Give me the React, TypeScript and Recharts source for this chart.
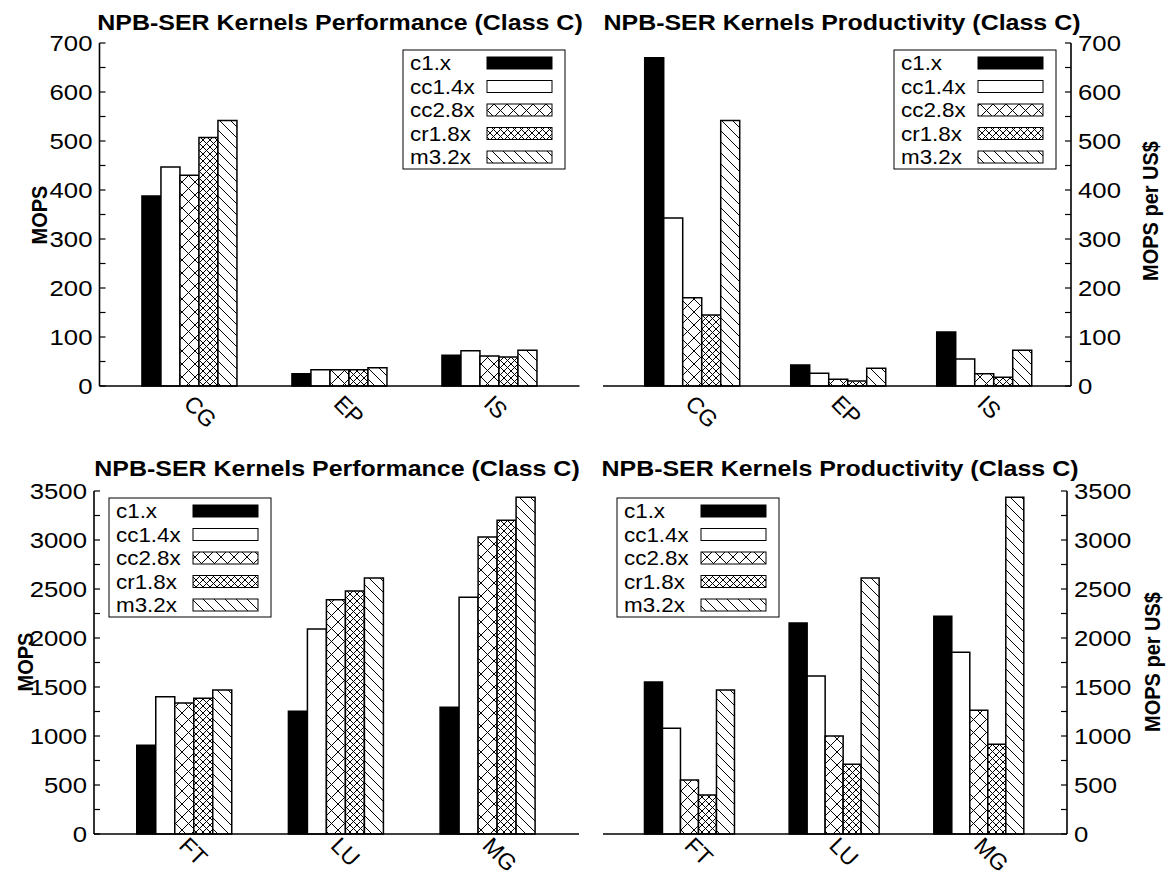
import React from 'react';
import { BarChart, Bar, XAxis, YAxis } from 'recharts';

const SERIES = ['c1.x', 'cc1.4x', 'cc2.8x', 'cr1.8x', 'm3.2x'];
const TOP_KERNELS = ['CG', 'EP', 'IS'];
const BOTTOM_KERNELS = ['FT', 'LU', 'MG'];

// one row per kernel, one column per series (SERIES order)
const TOP_PERF = [
  [388, 447, 430, 507, 542],
  [25, 33, 33, 33, 37],
  [63, 72, 61, 59, 73],
];
const TOP_PROD = [
  [670, 343, 180, 145, 542],
  [43, 26, 14, 10, 36],
  [110, 55, 25, 18, 73],
];
const BOTTOM_PERF = [
  [905, 1400, 1337, 1385, 1470],
  [1252, 2092, 2390, 2480, 2612],
  [1293, 2415, 3030, 3202, 3435],
];
const BOTTOM_PROD = [
  [1550, 1078, 551, 398, 1470],
  [2152, 1612, 1000, 712, 2612],
  [2222, 1855, 1263, 916, 3435],
];

const TOP_TICKS = [0, 50, 100, 150, 200, 250, 300, 350, 400, 450, 500, 550, 600, 650, 700];
const TOP_LABELS = [0, 100, 200, 300, 400, 500, 600, 700];
const BOTTOM_TICKS = [0, 250, 500, 750, 1000, 1250, 1500, 1750, 2000, 2250, 2500, 2750, 3000, 3250, 3500];
const BOTTOM_LABELS = [0, 500, 1000, 1500, 2000, 2500, 3000, 3500];

const FONT = "'Liberation Sans', Arial, Helvetica, sans-serif";
const KEYS = ['s0', 's1', 's2', 's3', 's4'];

const buildRows = (kernels: string[], values: number[][]) =>
  kernels.map((kernel, i) => {
    const row: any = { kernel };
    KEYS.forEach((k, j) => (row[k] = values[i][j]));
    return row;
  });

const fillsFor = (p: string) => ['#000', '#fff', `url(#${p}-x)`, `url(#${p}-d)`, `url(#${p}-s)`];

// the original glyphs are a little wider than Arial, so most text gets a horizontal stretch
function SText({ x, y, rotate = 0, sx = 1.12, children, ...rest }: any) {
  return (
    <g transform={`translate(${x} ${y}) scale(${sx} 1) rotate(${rotate})`}>
      <text x={0} y={0} fontFamily={FONT} fill="#000" {...rest}>
        {children}
      </text>
    </g>
  );
}

function Patterns({ p }: { p: string }) {
  return (
    <defs>
      <pattern id={`${p}-x`} patternUnits="userSpaceOnUse" width={13} height={13}>
        <rect width={13} height={13} fill="#fff" />
        <path d="M0,0 L13,13 M13,0 L0,13" stroke="#000" strokeWidth={1} />
      </pattern>
      <pattern id={`${p}-d`} patternUnits="userSpaceOnUse" width={7} height={7}>
        <rect width={7} height={7} fill="#fff" />
        <path d="M0,0 L7,7 M7,0 L0,7" stroke="#000" strokeWidth={1} />
      </pattern>
      <pattern id={`${p}-s`} patternUnits="userSpaceOnUse" width={11} height={11}>
        <rect width={11} height={11} fill="#fff" />
        <path d="M0,0 L11,11 M-2,9 L2,13 M9,-2 L13,2" stroke="#000" strokeWidth={1} />
      </pattern>
    </defs>
  );
}

function LegendBox({ x, y, p }: { x: number; y: number; p: string }) {
  const fills = fillsFor(p);
  return (
    <g>
      <rect x={x} y={y} width={162} height={119} fill="#fff" stroke="#000" strokeWidth={1} />
      {SERIES.map((name, i) => {
        const cy = y + 13 + i * 23.5;
        return (
          <g key={name}>
            <SText x={x + 7} y={cy} dy="0.36em" fontSize={20}>
              {name}
            </SText>
            <rect x={x + 84} y={cy - 6} width={65} height={12} fill={fills[i]} stroke="#000" strokeWidth={1} />
          </g>
        );
      })}
    </g>
  );
}

const makeYTick = (side: 'left' | 'right', labels: number[]) => (props: any) => {
  const { x, y, payload } = props;
  const ax = side === 'left' ? x + 7 : x - 7;
  const dir = side === 'left' ? 1 : -1;
  return (
    <g>
      <line x1={ax} x2={ax + dir * 6} y1={y} y2={y} stroke="#000" strokeWidth={1.2} />
      {labels.includes(payload.value) && (
        <SText x={x} y={y} dy="0.36em" textAnchor={side === 'left' ? 'end' : 'start'} fontSize={23}>
          {payload.value}
        </SText>
      )}
    </g>
  );
};

const mirrorTick = (props: any) => {
  const { x, y } = props;
  return <line x1={x} x2={x - 6} y1={y} y2={y} stroke="#000" strokeWidth={1.2} />;
};

const makeXTick = (dy: number) => (props: any) => {
  const { x, y, payload } = props;
  return (
    <SText x={x - 7} y={y + dy} rotate={45} sx={1} fontSize={23}>
      {payload.value}
    </SText>
  );
};

type PanelProps = {
  p: string;
  left: number;
  top: number;
  width: number;
  height: number;
  margin: { top: number; right: number; bottom: number; left: number };
  axisWidth: number;
  xAxisHeight: number;
  xTickDy: number;
  side: 'left' | 'right';
  kernels: string[];
  values: number[][];
  ticks: number[];
  labels: number[];
  max: number;
  title: string;
  titleX: number;
  titleY: number;
  yLabel: string;
  yLabelX: number;
  yLabelY: number;
  legendX: number;
  legendY: number;
};

function Panel(props: PanelProps) {
  const data = buildRows(props.kernels, props.values);
  const fills = fillsFor(props.p);
  const other = props.side === 'left' ? 'right' : 'left';
  return (
    <div style={{ position: 'absolute', left: props.left, top: props.top }}>
      <BarChart
        width={props.width}
        height={props.height}
        data={data}
        margin={props.margin}
        barCategoryGap="18.3%"
        barGap={0}
      >
        <Patterns p={props.p} />
        <XAxis
          dataKey="kernel"
          height={props.xAxisHeight}
          padding={{ left: 15, right: 15 }}
          tickLine={false}
          tickSize={0}
          tickMargin={0}
          interval={0}
          tick={makeXTick(props.xTickDy)}
          axisLine={{ stroke: '#000', strokeWidth: 1.6 }}
        />
        <XAxis
          xAxisId="top"
          orientation="top"
          dataKey="kernel"
          height={0}
          tick={false}
          tickLine={false}
          axisLine={{ stroke: '#000', strokeWidth: 1.6 }}
        />
        <YAxis
          yAxisId="v"
          orientation={props.side}
          width={props.axisWidth}
          type="number"
          domain={[0, props.max]}
          ticks={props.ticks}
          interval={0}
          tickLine={false}
          tickSize={0}
          tickMargin={7}
          tick={makeYTick(props.side, props.labels)}
          axisLine={{ stroke: '#000', strokeWidth: 1.6 }}
        />
        <YAxis
          yAxisId="m"
          orientation={other}
          width={0}
          type="number"
          domain={[0, props.max]}
          ticks={props.ticks}
          interval={0}
          tickLine={false}
          tickSize={0}
          tickMargin={0}
          tick={props.side === 'left' ? mirrorTick : false}
          axisLine={{ stroke: '#000', strokeWidth: 1.6 }}
        />
        {KEYS.map((k, i) => (
          <Bar
            key={k}
            dataKey={k}
            name={SERIES[i]}
            yAxisId="v"
            fill={fills[i]}
            stroke="#000"
            strokeWidth={1.5}
            isAnimationActive={false}
          />
        ))}
        <LegendBox x={props.legendX} y={props.legendY} p={props.p} />
        <SText x={props.titleX} y={props.titleY} textAnchor="middle" fontSize={22.3} fontWeight="bold">
          {props.title}
        </SText>
        <SText
          x={props.yLabelX}
          y={props.yLabelY}
          rotate={-90}
          textAnchor="middle"
          dy="0.36em"
          fontSize={20}
          fontWeight="bold"
        >
          {props.yLabel}
        </SText>
      </BarChart>
    </div>
  );
}

export default function App() {
  return (
    <div style={{ position: 'absolute', left: 0, top: 0, width: 1169, height: 879, background: '#fff' }}>
      <Panel
        p="tl"
        left={0}
        top={0}
        width={590}
        height={440}
        margin={{ top: 43, right: 10.5, bottom: 0, left: 0 }}
        axisWidth={99.5}
        xAxisHeight={54}
        xTickDy={19}
        side="left"
        kernels={TOP_KERNELS}
        values={TOP_PERF}
        ticks={TOP_TICKS}
        labels={TOP_LABELS}
        max={700}
        title="NPB-SER Kernels Performance (Class C)"
        titleX={340}
        titleY={30}
        yLabel="MOPS"
        yLabelX={39}
        yLabelY={215}
        legendX={403}
        legendY={50}
      />
      <Panel
        p="tr"
        left={590}
        top={0}
        width={579}
        height={440}
        margin={{ top: 43, right: 0, bottom: 0, left: 13 }}
        axisWidth={98}
        xAxisHeight={54}
        xTickDy={19}
        side="right"
        kernels={TOP_KERNELS}
        values={TOP_PROD}
        ticks={TOP_TICKS}
        labels={TOP_LABELS}
        max={700}
        title="NPB-SER Kernels Productivity (Class C)"
        titleX={252}
        titleY={30}
        yLabel="MOPS per US$"
        yLabelX={560}
        yLabelY={211}
        legendX={304}
        legendY={50}
      />
      <Panel
        p="bl"
        left={0}
        top={440}
        width={590}
        height={439}
        margin={{ top: 51, right: 11, bottom: 0, left: 0 }}
        axisWidth={94}
        xAxisHeight={45}
        xTickDy={13}
        side="left"
        kernels={BOTTOM_KERNELS}
        values={BOTTOM_PERF}
        ticks={BOTTOM_TICKS}
        labels={BOTTOM_LABELS}
        max={3500}
        title="NPB-SER Kernels Performance (Class C)"
        titleX={337}
        titleY={36}
        yLabel="MOPS"
        yLabelX={25}
        yLabelY={222}
        legendX={109}
        legendY={58}
      />
      <Panel
        p="br"
        left={590}
        top={440}
        width={579}
        height={439}
        margin={{ top: 51, right: 0, bottom: 0, left: 13 }}
        axisWidth={102}
        xAxisHeight={45}
        xTickDy={13}
        side="right"
        kernels={BOTTOM_KERNELS}
        values={BOTTOM_PROD}
        ticks={BOTTOM_TICKS}
        labels={BOTTOM_LABELS}
        max={3500}
        title="NPB-SER Kernels Productivity (Class C)"
        titleX={250}
        titleY={36}
        yLabel="MOPS per US$"
        yLabelX={562}
        yLabelY={222}
        legendX={27}
        legendY={58}
      />
    </div>
  );
}
